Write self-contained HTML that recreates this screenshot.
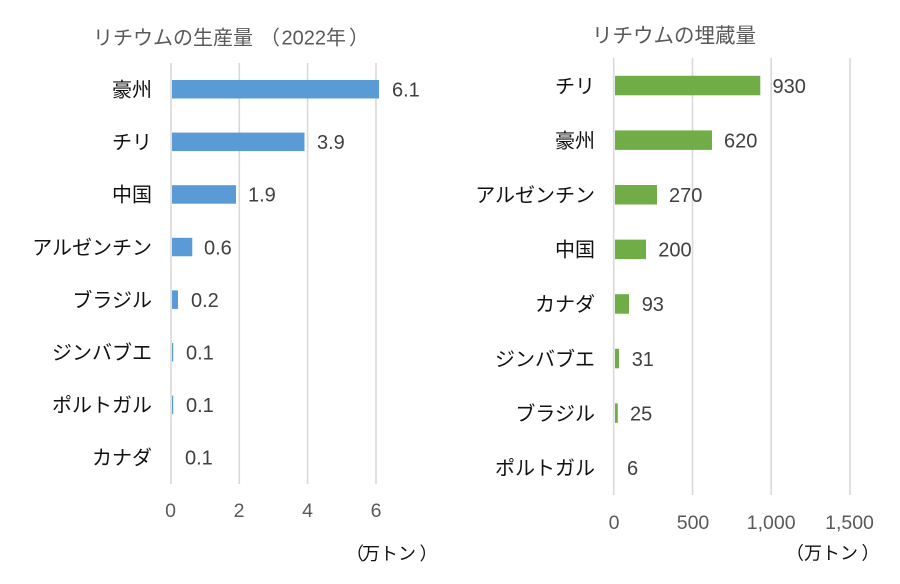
<!DOCTYPE html>
<html>
<head>
<meta charset="utf-8">
<style>
html,body{margin:0;padding:0;background:#fff;}
svg{display:block;}
.cat{font-family:"Liberation Sans","Noto Sans CJK JP",sans-serif;font-size:20px;fill:#111;}
.val{font-family:"Liberation Sans","Noto Sans CJK JP",sans-serif;font-size:20px;fill:#404040;}
.tick{font-family:"Liberation Sans","Noto Sans CJK JP",sans-serif;font-size:19.5px;fill:#595959;}
.title{font-family:"Liberation Sans","Noto Sans CJK JP",sans-serif;font-size:20px;fill:#595959;}
.unit{font-family:"Liberation Sans","Noto Sans CJK JP",sans-serif;font-size:18px;fill:#111;}
</style>
</head>
<body>
<svg width="900" height="584" viewBox="0 0 900 584" xmlns="http://www.w3.org/2000/svg">
  <rect width="900" height="584" fill="#fff"/>

  <!-- LEFT CHART -->
  <text class="title" y="44.5"><tspan x="93">リチウムの生産量</tspan><tspan x="260">（</tspan><tspan x="281.5">2022</tspan><tspan x="326">年</tspan><tspan x="349">）</tspan></text>
  <g stroke="#d9d9d9" stroke-width="1.6">
    <line x1="171" y1="63" x2="171" y2="484"/>
    <line x1="239.3" y1="63" x2="239.3" y2="484"/>
    <line x1="307.6" y1="63" x2="307.6" y2="484"/>
    <line x1="376" y1="63" x2="376" y2="484"/>
  </g>
  <g fill="#5b9bd5">
    <rect x="172" y="80" width="207" height="18.5"/>
    <rect x="172" y="132.6" width="132.5" height="18.5"/>
    <rect x="172" y="185.2" width="64" height="18.5"/>
    <rect x="172" y="237.8" width="20.3" height="18.5"/>
    <rect x="172" y="290.4" width="6" height="18.5"/>
    <rect x="172" y="343" width="1.2" height="18.5"/>
    <rect x="172" y="395.6" width="1.2" height="18.5"/>
  </g>
  <g class="cat" text-anchor="end">
    <text x="152" y="96.5">豪州</text>
    <text x="152" y="149.1">チリ</text>
    <text x="152" y="201.7">中国</text>
    <text x="152" y="254.3">アルゼンチン</text>
    <text x="152" y="306.9">ブラジル</text>
    <text x="152" y="359.5">ジンバブエ</text>
    <text x="152" y="412.1">ポルトガル</text>
    <text x="152" y="464.7">カナダ</text>
  </g>
  <g class="val">
    <text x="392" y="96.5">6.1</text>
    <text x="317" y="149.1">3.9</text>
    <text x="248" y="201.7">1.9</text>
    <text x="204" y="254.3">0.6</text>
    <text x="191" y="306.9">0.2</text>
    <text x="186" y="359.5">0.1</text>
    <text x="186" y="412.1">0.1</text>
    <text x="185" y="464.7">0.1</text>
  </g>
  <g class="tick" text-anchor="middle">
    <text x="170.5" y="517">0</text>
    <text x="239" y="517">2</text>
    <text x="307.5" y="517">4</text>
    <text x="376" y="517">6</text>
  </g>
  <text class="unit" y="560"><tspan x="346">（</tspan><tspan x="362">万トン</tspan><tspan x="419.5">）</tspan></text>

  <!-- RIGHT CHART -->
  <text class="title" x="592" y="42.5" style="font-size:20.5px">リチウムの埋蔵量</text>
  <g stroke="#d9d9d9" stroke-width="1.6">
    <line x1="613.7" y1="58" x2="613.7" y2="495"/>
    <line x1="692.5" y1="58" x2="692.5" y2="495"/>
    <line x1="771.2" y1="58" x2="771.2" y2="495"/>
    <line x1="850" y1="58" x2="850" y2="495"/>
  </g>
  <g fill="#70ad47">
    <rect x="615" y="75.8" width="145.3" height="19.5"/>
    <rect x="615" y="130.4" width="97" height="19.5"/>
    <rect x="615" y="185" width="42" height="19.5"/>
    <rect x="615" y="239.6" width="31" height="19.5"/>
    <rect x="615" y="294.2" width="14" height="19.5"/>
    <rect x="615" y="348.8" width="4" height="19.5"/>
    <rect x="615" y="403.4" width="2.8" height="19.5"/>
  </g>
  <g class="cat" text-anchor="end">
    <text x="595" y="92.8">チリ</text>
    <text x="595" y="147.4">豪州</text>
    <text x="595" y="202">アルゼンチン</text>
    <text x="595" y="256.6">中国</text>
    <text x="595" y="311.2">カナダ</text>
    <text x="595" y="365.8">ジンバブエ</text>
    <text x="595" y="420.4">ブラジル</text>
    <text x="595" y="475">ポルトガル</text>
  </g>
  <g class="val">
    <text x="772.5" y="92.8">930</text>
    <text x="724" y="147.4">620</text>
    <text x="669" y="202">270</text>
    <text x="658.3" y="256.6">200</text>
    <text x="641.7" y="311.2">93</text>
    <text x="631.7" y="365.8">31</text>
    <text x="630" y="420.4">25</text>
    <text x="627" y="475">6</text>
  </g>
  <g class="tick" text-anchor="middle">
    <text x="614" y="529">0</text>
    <text x="693" y="529">500</text>
    <text x="771.2" y="529">1,000</text>
    <text x="849.5" y="529">1,500</text>
  </g>
  <text class="unit" y="559.5"><tspan x="786">（</tspan><tspan x="804">万トン</tspan><tspan x="861.5">）</tspan></text>
</svg>
</body>
</html>
